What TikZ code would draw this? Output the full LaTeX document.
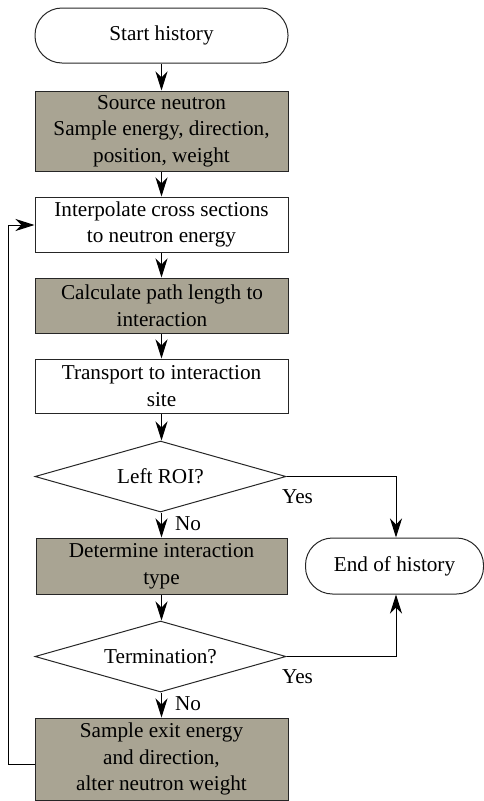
\documentclass[tikz,border=0pt]{standalone}
\usepackage{fontspec}
\setmainfont{Liberation Serif}
\usetikzlibrary{shapes.geometric,arrows.meta}
\definecolor{boxfill}{HTML}{A9A493}
\begin{document}
\begin{tikzpicture}[x=1pt,y=-1pt,
  font=\fontsize{21.2pt}{26.7pt}\selectfont,
  base/.style={draw=black!85, line width=1pt, inner sep=0pt, align=center, text=black},
  procbox/.style={base, rectangle, minimum width=253pt},
  shadebox/.style={procbox, fill=boxfill},
  termbox/.style={base, rectangle, rounded corners=27pt},
  decbox/.style={base, diamond, aspect=3.5, minimum width=251pt, minimum height=71pt},
  flow/.style={line width=1pt, -{Stealth[length=19pt,width=12pt,inset=6pt]}},
  lbl/.style={inner sep=0pt}]
\useasboundingbox (0,0) rectangle (484,801);
\node[termbox, minimum width=253pt, minimum height=55pt] (start) at (161.5,35.5) {Start history};
\node[shadebox, minimum height=80pt] (source) at (161.5,131) {Source neutron\\Sample energy, direction,\\position, weight};
\node[procbox, minimum height=55pt] (interp) at (161.5,224.5) {Interpolate cross sections\\to neutron energy};
\node[shadebox, minimum height=55pt] (calc) at (162,305.5) {Calculate path length to\\interaction};
\node[procbox, minimum height=54pt] (trans) at (161.5,386) {Transport to interaction\\site};
\node[decbox] (roi) at (160.5,476.5) {Left ROI?};
\node[shadebox, minimum width=251pt, minimum height=56pt] (det) at (161.5,566) {Determine interaction\\type};
\node[termbox, minimum width=178pt, minimum height=56pt] (end) at (394.5,566) {End of history};
\node[decbox] (term) at (160.5,656.5) {Termination?};
\node[shadebox, minimum height=82pt] (samp) at (161.5,759) {Sample exit energy\\and direction,\\alter neutron weight};
\coordinate (c1) at (396,476.5);
\coordinate (c2) at (396,656.5);
\coordinate (l1) at (8,764);
\coordinate (l2) at (8,225);
\draw[flow] (start.south) -- (source.north);
\draw[flow] (source.south) -- (interp.north);
\draw[flow] (interp.south) -- (calc.north -| interp.south);
\draw[flow] (calc.south -| interp.south) -- (trans.north);
\draw[flow] (trans.south) -- (roi.north -| trans.south);
\draw[flow] (roi.south -| trans.south) -- (det.north);
\draw[flow] (det.south) -- (term.north -| det.south);
\draw[flow] (term.south -| det.south) -- (samp.north);
\draw[flow] (roi.east) -- (c1) -- (end.north -| c1);
\draw[flow] (term.east) -- (c2) -- (end.south -| c2);
\draw[flow] (samp.west |- l1) -- (l1) -- (l2) -- (interp.west |- l2);
\node[lbl] (yes1) at (297.5,497) {Yes};
\node[lbl] (yes2) at (297.5,677) {Yes};
\node[lbl] (no1) at (188,524) {No};
\node[lbl] (no2) at (188,704) {No};
\end{tikzpicture}
\end{document}
